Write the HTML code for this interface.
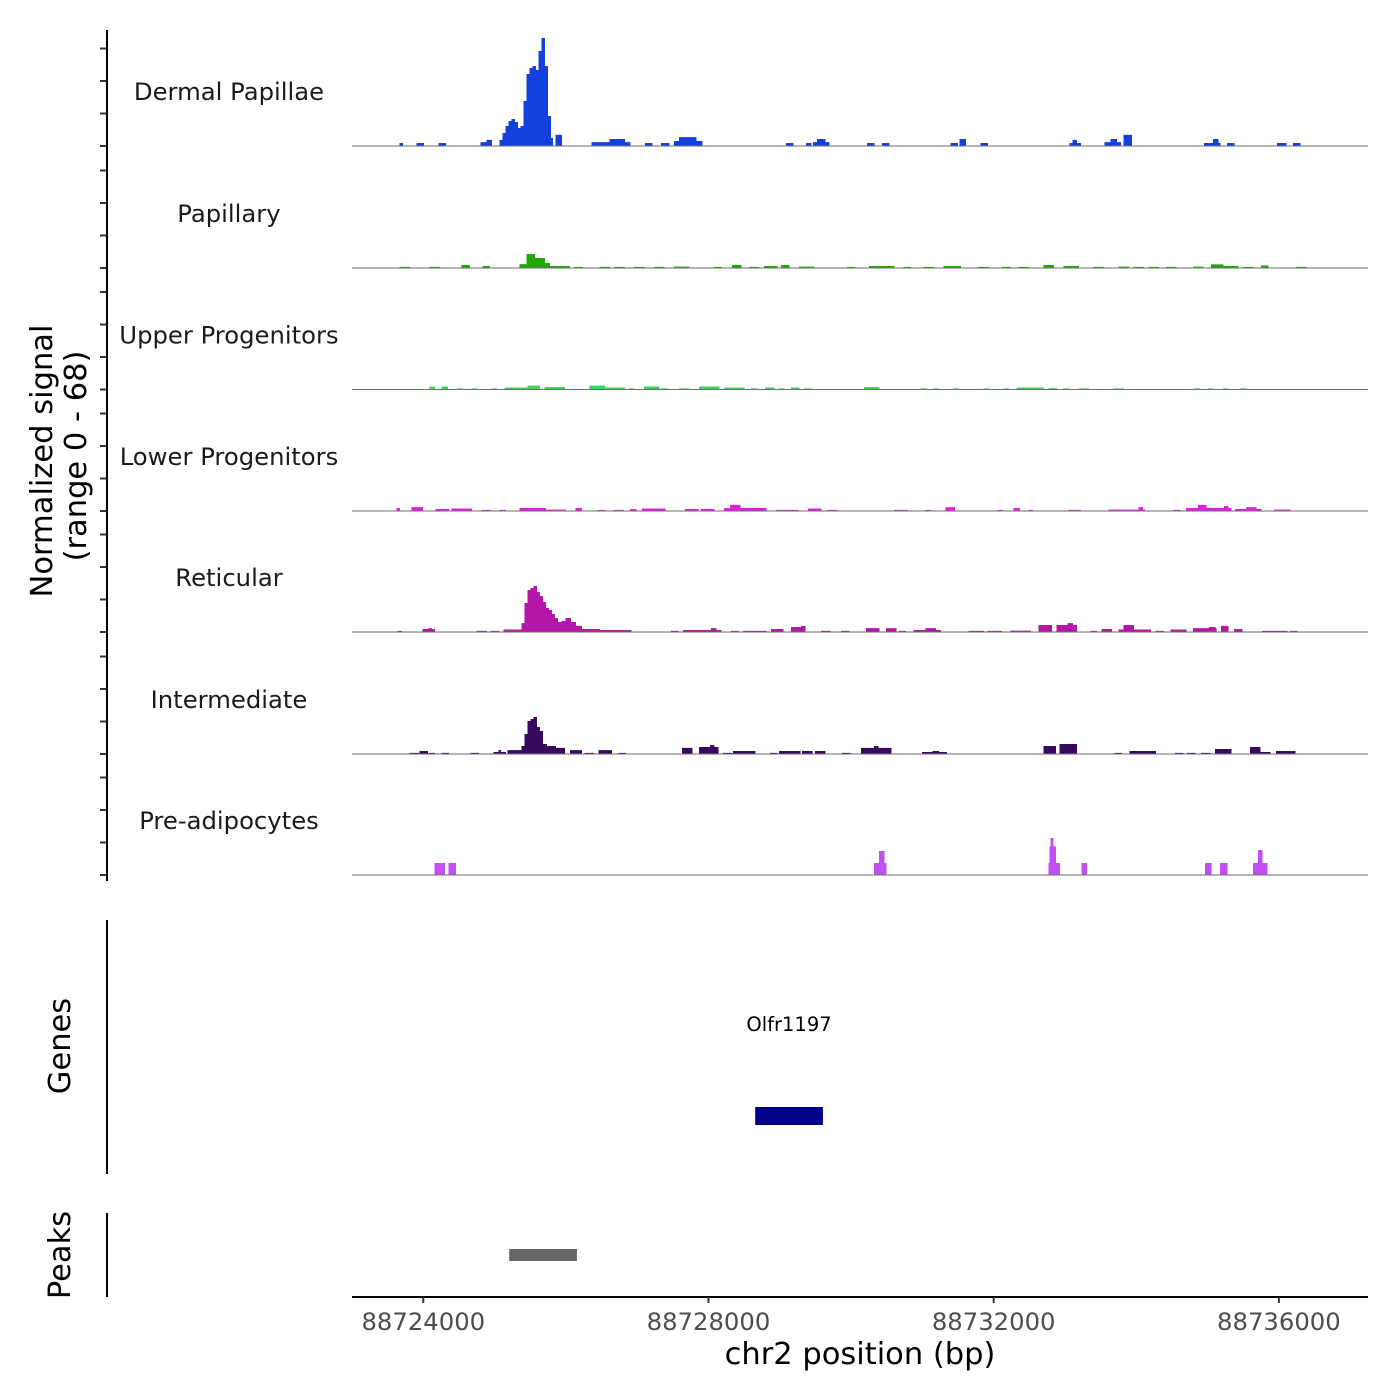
<!DOCTYPE html>
<html><head><meta charset="utf-8"><style>
body{margin:0;background:#fff;}
svg{display:block;font-family:"DejaVu Sans","Liberation Sans",sans-serif;}
</style></head><body>
<svg id="chart" width="1400" height="1400" viewBox="0 0 1400 1400" xmlns="http://www.w3.org/2000/svg">
<g id="tracks"></g>
<g id="yaxis"></g>
<text transform="translate(52,461) rotate(-90)" text-anchor="middle" font-size="30.5" fill="#000">Normalized signal</text>
<text transform="translate(86,456) rotate(-90)" text-anchor="middle" font-size="30.5" fill="#000">(range 0 - 68)</text>
<line x1="107" y1="920" x2="107" y2="1174" stroke="#000" stroke-width="2"/>
<text transform="translate(70,1046) rotate(-90)" text-anchor="middle" font-size="30.5" fill="#000">Genes</text>
<text x="789" y="1031" text-anchor="middle" font-size="19.5" fill="#000">Olfr1197</text>
<rect id="gene" fill="#00008B"/>
<line x1="107" y1="1213" x2="107" y2="1297" stroke="#000" stroke-width="2"/>
<text transform="translate(70,1255) rotate(-90)" text-anchor="middle" font-size="30.5" fill="#000">Peaks</text>
<rect id="peak" fill="#666"/>
<g id="xaxis"></g>
<text x="860" y="1364" text-anchor="middle" font-size="30.5" fill="#000">chr2 position (bp)</text>
</svg>
<script>
const regionStart = 88723000;
const regionEnd = 88737250;
const xTicks = [88724000, 88728000, 88732000, 88736000];
const trackNames = ["Dermal Papillae","Papillary","Upper Progenitors","Lower Progenitors","Reticular","Intermediate","Pre-adipocytes"];
const trackColors = ["#1440DD","#1FA806","#3ED45A","#E21FE0","#B417A8","#380A5E","#C050F2"];
const yMax = 68;
// segments: [startOffset(bp from regionStart), endOffset, value]
const dermalPapillae = [[672,714,1.7],[910,1008,1.7],[1218,1316,1.7],[1806,1890,2.2],[1890,1960,3.4],
[2072,2114,3.4],[2114,2156,7.3],[2156,2198,11.2],[2198,2240,14],[2240,2282,15.1],[2282,2324,13.4],[2324,2366,10.1],[2366,2408,11.2],[2408,2450,25.2],[2450,2492,40.3],[2492,2534,43.7],[2534,2576,44.8],[2576,2618,42.6],[2618,2660,53.2],[2660,2702,60.5],[2702,2744,44.8],[2744,2786,16.8],[2786,2814,4.5],
[2856,2940,6.2],[3360,3906,2.2],[3612,3822,3.9],[4116,4214,1.7],[4340,4452,1.7],[4522,4914,2.8],[4592,4830,5],[6090,6188,1.7],[6370,6440,1.7],[6468,6692,2.2],[6524,6636,3.9],[7224,7322,1.7],[7434,7532,1.7],[8400,8498,1.7],[8526,8610,3.9],[8820,8918,1.7],[10066,10220,1.7],[10108,10164,3.4],[10556,10780,2.2],[10640,10724,3.9],[10822,10934,6.2],[11956,12180,1.7],[12082,12152,3.9],[12278,12376,1.7],[12978,13104,1.7],[13202,13300,1.7]];
const papillary = [[672,812,0.6],[1092,1232,0.6],[1540,1652,1.7],[1834,1932,1.1],[2352,2450,2.2],[2450,2562,7.8],[2562,2702,5.6],[2702,2772,2.8],[2772,3052,1.1],[3122,3234,0.6],[3472,3612,0.6],[3682,3822,0.6],[3962,4102,0.6],[4242,4382,0.6],[4522,4732,0.8],[5082,5180,0.6],[5334,5460,1.7],[5572,5712,0.6],[5782,5964,1.1],[6020,6132,1.7],[6272,6482,0.8],[6944,7056,0.6],[7252,7602,1.1],[7742,7840,0.6],[8022,8162,0.6],[8302,8540,1.1],[8792,8932,0.6],[9114,9240,0.6],[9352,9492,0.6],[9702,9842,1.7],[9982,10192,1.1],[10402,10542,0.6],[10752,10892,0.8],[10962,11102,0.6],[11172,11312,0.6],[11424,11564,0.6],[11802,11942,0.8],[12054,12222,2],[12222,12432,1.1],[12502,12642,0.6],[12754,12852,1.4],[13244,13384,0.6]];
const upperProgenitors = [[1092,1162,1.7],[1260,1344,1.7],[1484,1554,0.6],[1680,1750,0.6],[1974,2030,0.6],[2142,2492,1.1],[2464,2632,2.2],[2702,2982,1.4],[3332,3542,2.2],[3542,3822,1.1],[3892,3962,0.6],[4102,4312,1.7],[4340,4424,0.6],[4592,4732,0.6],[4872,5152,1.7],[5222,5502,1.1],[5600,5684,0.6],[5796,5922,1.1],[5992,6062,0.6],[6160,6272,1.1],[6342,6440,0.6],[7182,7392,1.4],[7980,8064,0.6],[8162,8232,0.6],[8442,8512,0.6],[8862,8932,0.6],[9142,9212,0.6],[9324,9702,1.1],[9772,9884,0.8],[9982,10052,0.6],[10192,10332,0.6],[10682,10822,0.6],[11816,11900,0.6],[12012,12082,0.6],[12222,12292,0.6],[12460,12544,0.6]];
const lowerProgenitors = [[630,672,1.7],[840,994,2.2],[1176,1358,1.1],[1400,1680,1.4],[1820,1946,0.6],[2072,2156,0.6],[2352,2716,1.7],[2716,2996,0.8],[3136,3220,1.7],[3444,3542,0.6],[3668,3808,0.6],[3906,3990,1.1],[4074,4396,1.4],[4676,4858,1.1],[4900,5082,1.1],[5222,5810,1.7],[5306,5446,3.4],[5950,6258,0.6],[6398,6580,1.4],[6664,6804,0.6],[7602,7798,0.6],[8050,8120,0.6],[8330,8456,2.2],[9058,9128,0.6],[9282,9366,1.7],[9492,9548,0.6],[10052,10220,0.6],[10612,11116,0.8],[11032,11088,2.2],[11522,11620,0.6],[11704,12068,1.7],[11872,11984,3.4],[12068,12334,1.7],[12236,12292,2.8],[12390,12754,1.1],[12544,12684,2.2],[12936,13160,0.8]];
const reticular = [[644,700,0.6],[994,1162,1.7],[1078,1120,2.2],[1750,1890,0.6],[1946,2058,0.6],[2128,2380,1.4],
[2380,2422,5],[2422,2464,16.2],[2464,2506,23.5],[2506,2548,24.6],[2548,2590,25.8],[2590,2632,22.4],[2632,2674,20.2],[2674,2716,16.8],[2716,2758,13.4],[2758,2800,12.3],[2800,2842,10.1],[2842,2884,7.8],[2884,2940,5.6],[2940,2996,6.2],[2996,3066,7.8],[3066,3136,5.6],[3136,3220,3.4],[3220,3472,1.7],[3472,3920,1.1],
[4480,4578,0.6],[4648,5180,1.1],[5040,5110,2.2],[5320,5418,0.6],[5488,5810,0.6],[5880,6048,1.7],[6160,6342,2.8],[6300,6356,3.4],[6580,6706,0.6],[6860,6972,0.6],[7210,7392,2.2],[7490,7630,2.2],[7672,7770,0.6],[7882,8260,1.1],[8050,8190,2.2],[8652,8862,0.6],[8918,9114,0.6],[9240,9520,0.8],[9632,9814,3.9],[9884,10164,3.9],[10038,10108,5],[10360,10444,0.6],[10514,10654,1.7],[10752,11200,1.4],[10822,10962,3.9],[11270,11382,0.6],[11480,11704,1.4],[11802,12124,2.2],[12026,12110,2.8],[12194,12292,3.4],[12376,12488,1.7],[12768,13118,0.6],[13160,13258,0.6]];
const intermediate = [[812,938,0.6],[952,1064,1.7],[1078,1162,0.6],[1260,1358,0.6],[1666,1778,0.6],[1988,2156,1.1],[2058,2086,2.2],[2184,2380,2.2],
[2380,2422,4.5],[2422,2464,11.2],[2464,2506,18.5],[2506,2548,19.6],[2548,2590,20.7],[2590,2632,15.1],[2632,2674,12.9],[2674,2730,5.6],[2730,2856,4.5],[2856,2982,3.4],
[3058,3220,2.2],[3262,3388,0.6],[3458,3640,2.2],[3738,3836,0.6],[4634,4774,3.4],[4872,5138,3.9],[5026,5082,5],[5208,5334,0.6],[5348,5656,1.7],[5866,5964,0.6],[5992,6286,1.7],[6314,6454,1.7],[6496,6636,1.7],[6874,6986,0.6],[7140,7560,3.4],[7322,7378,4.5],[8000,8344,1.1],[8148,8232,1.7],[9702,9870,4.5],[9926,10164,5.6],[10696,10794,0.6],[10906,11270,1.7],[11550,11662,0.6],[11718,11830,0.6],[11914,12040,0.6],[12110,12334,2.8],[12600,12880,1.1],[12600,12740,3.9],[12964,13230,1.7]];
const preAdipocytes = [[1162,1302,6.7],[1358,1456,6.7],[7322,7490,6.7],[7392,7462,13.4],[9772,9926,6.7],[9786,9870,16],[9800,9836,20.7],[10234,10304,6.7],[11970,12054,6.7],[12180,12278,6.7],[12642,12838,6.7],[12712,12768,14]];
const geneStart = 88728655, geneEnd = 88729605;
const peakStart = 88725205, peakEnd = 88726155;

const NS = "http://www.w3.org/2000/svg";
const X0 = 352, X1 = 1368;
function xs(bp){ return X0 + (bp - regionStart) / (regionEnd - regionStart) * (X1 - X0); }
const baselines = [146,268,389.5,511,632,754,875];
const trackH = 121.5;
function ys(v, b){ return b - v / yMax * trackH; }
const allData = [dermalPapillae, papillary, upperProgenitors, lowerProgenitors, reticular, intermediate, preAdipocytes];
function mk(tag, attrs, parent){ const e=document.createElementNS(NS,tag); for(const k in attrs) e.setAttribute(k,attrs[k]); parent.appendChild(e); return e; }

const tracksG = document.getElementById('tracks');
const yG = document.getElementById('yaxis');
const STEP = 0.5;
allData.forEach((segs, i) => {
  const b = baselines[i];
  const g = mk('g', {}, tracksG);
  
  
  const lbl = mk('text', {x:229, y:b-46, 'text-anchor':'middle', 'font-size':24.3, fill:'#1a1a1a'}, g);
  lbl.textContent = trackNames[i];
  
  
  const n = Math.ceil((X1 - X0) / STEP);
  const prof = new Array(n).fill(0);
  segs.forEach(s => {
    const xa = xs(regionStart + s[0]), xb = xs(regionStart + s[1]);
    for (let k = Math.floor((xa - X0)/STEP); k < Math.ceil((xb - X0)/STEP); k++) {
      if (k >= 0 && k < n && s[2] > prof[k]) prof[k] = s[2];
    }
  });
  let d = '';
  let k = 0;
  while (k < n) {
    if (prof[k] > 0) {
      let x = X0 + k*STEP;
      d += `M${x.toFixed(1)},${b}`;
      while (k < n && prof[k] > 0) {
        const yy = ys(prof[k], b).toFixed(2);
        d += `L${(X0+k*STEP).toFixed(1)},${yy}L${(X0+(k+1)*STEP).toFixed(1)},${yy}`;
        k++;
      }
      d += `L${(X0+k*STEP).toFixed(1)},${b}Z`;
    } else k++;
  }
  const p = mk('path', {d:d, fill:trackColors[i]}, g);
  
  
  const ln = mk('line', {x1:X0, x2:X1, y1:b, y2:b, stroke:'#6e6e6e', 'stroke-width':1}, g);
  
  
  for (let t = 0; t < 4; t++) {
    const ty = b - t * 32.5;
    const tk = mk('line', {x1:100, x2:107, y1:ty, y2:ty, stroke:'#333', 'stroke-width':2}, yG);
    
    
  }
});
const yl = mk('line', {x1:107, x2:107, y1:30, y2:881, stroke:'#000', 'stroke-width':2}, yG);



const gene = document.getElementById('gene');
gene.setAttribute('x', xs(geneStart)); gene.setAttribute('width', xs(geneEnd)-xs(geneStart));
gene.setAttribute('y', 1107); gene.setAttribute('height', 18);
const peak = document.getElementById('peak');
peak.setAttribute('x', xs(peakStart)); peak.setAttribute('width', xs(peakEnd)-xs(peakStart));
peak.setAttribute('y', 1249); peak.setAttribute('height', 12);

const xG = document.getElementById('xaxis');
const xl = mk('line', {x1:X0, x2:X1, y1:1297, y2:1297, stroke:'#000', 'stroke-width':2}, xG);


xTicks.forEach(t => {
  const x = xs(t);
  const tk = mk('line', {x1:x, x2:x, y1:1297, y2:1303, stroke:'#333', 'stroke-width':2}, xG);
  
  
  const tl = mk('text', {x:x, y:1330, 'text-anchor':'middle', 'font-size':24.3, fill:'#4d4d4d'}, xG);
  tl.textContent = t;
  
  
});
</script>
</body></html>
